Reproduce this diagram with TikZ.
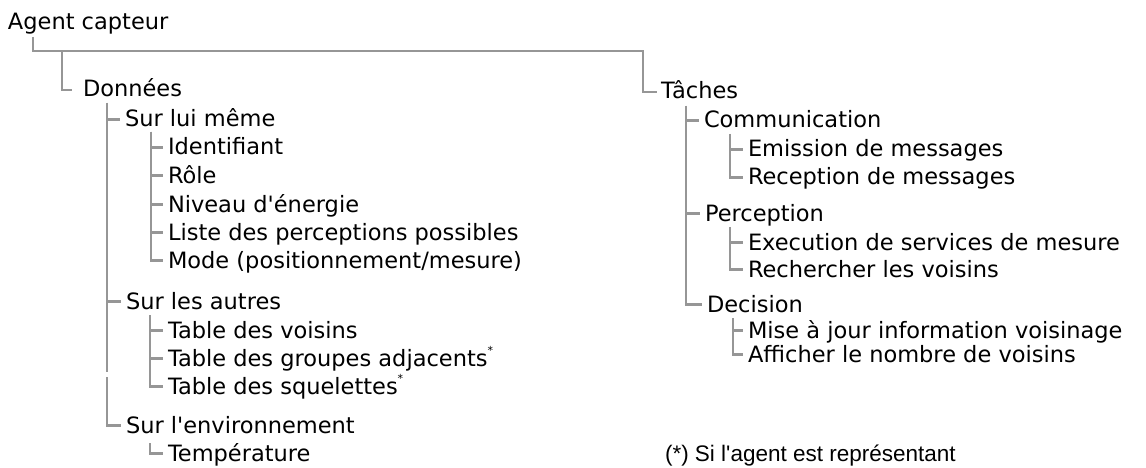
\documentclass[tikz,border=0pt]{standalone}
\usepackage{fontspec}
\setmainfont{DejaVu Sans}
\newfontfamily\notefont{Liberation Sans}
\usetikzlibrary{calc}
\definecolor{linegray}{RGB}{150,150,150}
\tikzset{
  lbl/.style={anchor=base west, inner sep=0pt, outer sep=0pt, font=\fontsize{22.5}{27}\selectfont},
  notelbl/.style={anchor=base west, inner sep=0pt, outer sep=0pt, font=\notefont\fontsize{22.5}{27}\selectfont},
  conn/.style={draw=linegray, line width=2.3pt},
}
\newcommand{\supast}{\raisebox{0.5em}{\fontsize{11}{11}\selectfont *}}
\newcommand{\apos}{\textquotesingle}
\begin{document}
\begin{tikzpicture}[x=1pt,y=-1pt]
\useasboundingbox (0,0) rectangle (1146,468);
% left tree
\node[lbl] (agent) at (8,30) {Agent capteur};
\node[lbl] (donnees) at (83,97) {Données};
\node[lbl] (surlui) at (125,127) {Sur lui même};
\node[lbl] (ident) at (168,155) {Identifiant};
\node[lbl] (role) at (168,183) {Rôle};
\node[lbl] (niveau) at (168,212) {Niveau d\apos énergie};
\node[lbl] (liste) at (168,240) {Liste des perceptions possibles};
\node[lbl] (mode) at (168,268) {Mode (positionnement/mesure)};
\node[lbl] (surautres) at (126,309) {Sur les autres};
\node[lbl] (tvois) at (168,338) {Table des voisins};
\node[lbl] (tgroup) at (168,366) {Table des groupes adjacents\supast};
\node[lbl] (tsque) at (168,394) {Table des squelettes\supast};
\node[lbl] (surenv) at (126,433) {Sur l\apos environnement};
\node[lbl] (temp) at (168,461) {Température};
% right tree
\node[lbl] (taches) at (661,99) {Tâches};
\node[lbl] (comm) at (704,128) {Communication};
\node[lbl] (emis) at (748,157) {Emission de messages};
\node[lbl] (recep) at (748,185) {Reception de messages};
\node[lbl] (percep) at (705,221) {Perception};
\node[lbl] (exec) at (748,250) {Execution de services de mesure};
\node[lbl] (recher) at (748,277) {Rechercher les voisins};
\node[lbl] (decis) at (707,312) {Decision};
\node[lbl] (mise) at (748,338) {Mise à jour information voisinage};
\node[lbl] (affich) at (748,362) {Afficher le nombre de voisins};
\node[notelbl] (note) at (665,461) {(*) Si l\apos agent est représentant};
% root connectors
\coordinate (agentT) at ($(agent.base west)+(25,7)$);
\coordinate (barR) at ($(taches.base west)+(-18,-48)$);
\draw[conn] (agentT) |- (barR) |- ($(taches.base west)+(-4,-7)$);
\draw[conn] ($(agentT |- barR)+(29,0)$) |- ($(donnees.base west)+(-11,-7)$);
% Donnees
\coordinate (donT) at ($(donnees.base west)+(24,6)$);
\coordinate (gapA) at ($(tsque.base west)+(-61,-22)$);
\coordinate (gapB) at ($(tsque.base west)+(-61,-17)$);
\foreach \c in {surlui,surautres}
  \draw[conn] (donT) |- ($(\c.base west)+(-5,-7.5)$);
\draw[conn] (donT) -- (gapA);
\draw[conn] (gapB) |- ($(surenv.base west)+(-5,-7.5)$);
% Sur lui meme
\foreach \c in {ident,role,niveau,liste,mode}
  \draw[conn] ($(surlui.base west)+(26,5)$) |- ($(\c.base west)+(-5,-7.5)$);
% Sur les autres
\foreach \c in {tvois,tgroup,tsque}
  \draw[conn] ($(surautres.base west)+(24,6)$) |- ($(\c.base west)+(-5,-7.5)$);
% Sur l'environnement
\draw[conn] ($(surenv.base west)+(24,10)$) |- ($(temp.base west)+(-5,-7.5)$);
% Taches
\foreach \c in {comm,percep,decis}
  \draw[conn] ($(taches.base west)+(25,7)$) |- ($(\c.base west)+(-5,-7.5)$);
\foreach \c in {emis,recep}
  \draw[conn] ($(comm.base west)+(26,6)$) |- ($(\c.base west)+(-5,-7.5)$);
\foreach \c in {exec,recher}
  \draw[conn] ($(percep.base west)+(25,6)$) |- ($(\c.base west)+(-5,-7.5)$);
\foreach \c in {mise,affich}
  \draw[conn] ($(decis.base west)+(26,6)$) |- ($(\c.base west)+(-5,-7.5)$);
\end{tikzpicture}
\end{document}
